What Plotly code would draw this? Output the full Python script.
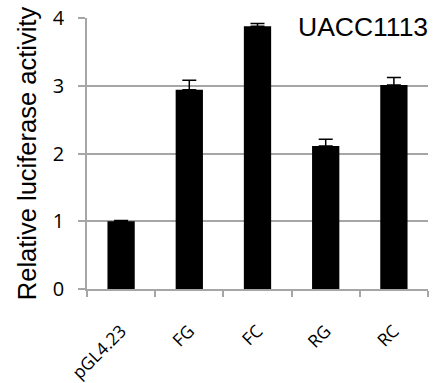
import plotly.graph_objects as go

constructs = ["pGL4.23", "FG", "FC", "RG", "RC"]
activity = [1.00, 2.94, 3.88, 2.11, 3.01]
error_up = [0.01, 0.14, 0.04, 0.10, 0.11]

grid_color = "#a6a6a6"

fig = go.Figure()

# Bars with upper error bars
fig.add_trace(
    go.Bar(
        x=constructs,
        y=activity,
        width=0.4,
        marker=dict(color="black", line=dict(width=0)),
        error_y=dict(
            type="data",
            array=error_up,
            arrayminus=[0] * len(error_up),
            symmetric=False,
            color="black",
            thickness=1.5,
            width=7,
        ),
        xaxis="x",
        yaxis="y",
    )
)

# Invisible companion trace so the label axis carries the same categories
fig.add_trace(
    go.Scatter(
        x=constructs,
        y=activity,
        mode="markers",
        marker=dict(opacity=0),
        hoverinfo="skip",
        showlegend=False,
        xaxis="x2",
        yaxis="y",
    )
)

fig.update_layout(
    width=438,
    height=383,
    margin=dict(l=87, r=10, t=18, b=94),
    plot_bgcolor="white",
    paper_bgcolor="white",
    showlegend=False,
    bargap=0.6,
    xaxis=dict(
        showline=True,
        linecolor=grid_color,
        linewidth=1.5,
        ticks="outside",
        tickson="boundaries",
        ticklen=6,
        tickcolor=grid_color,
        tickwidth=1.5,
        showticklabels=False,
        showgrid=False,
        automargin=False,
    ),
    # label axis: pushes the rotated category names further below the axis line
    xaxis2=dict(
        matches="x",
        overlaying="x",
        anchor="y",
        side="bottom",
        ticks="outside",
        ticklen=24,
        tickcolor="rgba(0,0,0,0)",
        tickangle=-45,
        tickfont=dict(family="Open Sans", size=17.5, color="black"),
        showline=False,
        showgrid=False,
        automargin=False,
    ),
    yaxis=dict(
        range=[0, 4],
        dtick=1,
        showline=True,
        linecolor=grid_color,
        linewidth=1.5,
        ticks="outside",
        ticklen=7,
        tickcolor=grid_color,
        tickwidth=1.5,
        ticklabelstandoff=10,
        showgrid=True,
        gridcolor=grid_color,
        gridwidth=1.5,
        zeroline=False,
        automargin=False,
        tickfont=dict(family="Open Sans", size=20, color="black"),
        title=dict(
            text="Relative luciferase activity",
            font=dict(family="Liberation Sans", size=25.5, color="black"),
            standoff=9,
        ),
    ),
    annotations=[
        dict(
            text="UACC1113",
            x=1.005, y=1.03, xref="paper", yref="paper",
            xanchor="right", yanchor="top",
            showarrow=False,
            font=dict(family="Liberation Sans", size=26.5, color="black"),
        )
    ],
)

fig.write_html("out.html")
